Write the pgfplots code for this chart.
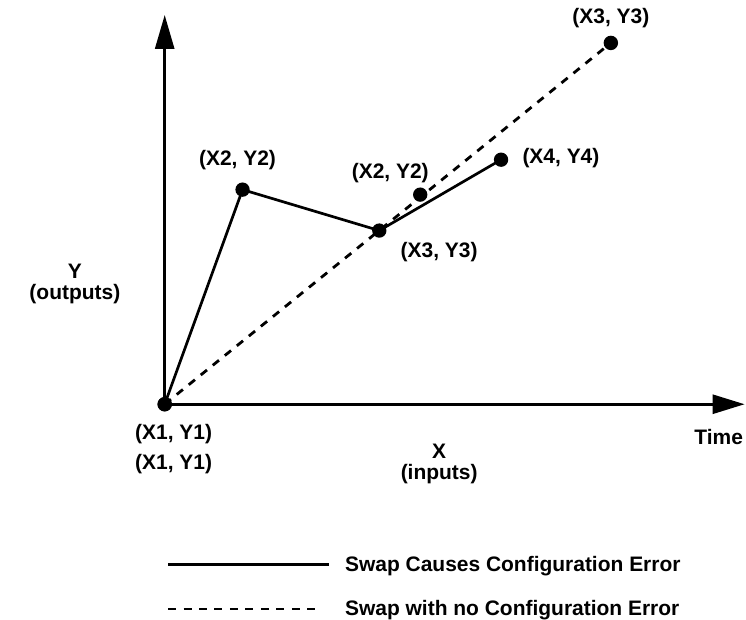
\documentclass[border=0pt]{standalone}
\usepackage{fontspec}
\setmainfont{Liberation Sans}
\usepackage{pgfplots}
\pgfplotsset{compat=1.18}
\usetikzlibrary{arrows.meta}
\begin{document}
\begin{tikzpicture}[lbl/.style={font=\fontsize{21}{24}\selectfont\bfseries, inner sep=0pt}]
\begin{axis}[
  scale only axis, width=746pt, height=620pt,
  xmin=-165, xmax=581, ymin=-215, ymax=405,
  hide axis, clip=false,
  legend style={at={(axis cs:2,-150)}, anchor=north west, draw=none, fill=none,
    font=\fontsize{21}{24}\selectfont\bfseries, row sep=24pt, column sep=13pt,
    inner sep=0pt, outer sep=0pt},
  legend cell align=left,
  legend image code/.code={\draw[black, line width=2.7pt] (0pt,0pt) -- (161pt,0pt);},
]
% axes
\addplot[black, line width=2.8pt, -{Triangle[length=32pt,width=19pt]}, forget plot] coordinates {(0,0) (581,0)};
\addplot[black, line width=2.8pt, -{Triangle[length=34pt,width=19pt]}, forget plot] coordinates {(0,0) (0,390)};
% solid path
\addplot[black, line width=2.7pt, mark=*, mark size=5.8pt] coordinates {(0,0) (78,215) (215,174) (337,245)};
\addlegendentry{Swap Causes Configuration Error}
% dashed path
\addplot[black, line width=2.8pt, dash pattern=on 8pt off 7.5pt, mark=*, mark size=5.8pt, mark options={solid},
  legend image code/.code={\draw[black, line width=2.8pt, dash pattern=on 8pt off 7.5pt] (0pt,0pt) -- (152pt,0pt);}] coordinates {(0,0) (447,362)};
\addlegendentry{Swap with no Configuration Error}
\addplot[black, line width=2.7pt, only marks, mark=*, mark size=5.8pt, forget plot] coordinates {(256,210)};
% labels
\node[lbl] at (axis cs:447,387) {(X3, Y3)};
\node[lbl] at (axis cs:73,245) {(X2, Y2)};
\node[lbl] at (axis cs:226,232) {(X2, Y2)};
\node[lbl] at (axis cs:397,247) {(X4, Y4)};
\node[lbl] at (axis cs:275,152) {(X3, Y3)};
\node[lbl] at (axis cs:9,-30) {(X1, Y1)};
\node[lbl] at (axis cs:9,-60) {(X1, Y1)};
\node[lbl] at (axis cs:-90,133) {Y};
\node[lbl] at (axis cs:-90,110) {(outputs)};
\node[lbl] at (axis cs:275,-47) {X};
\node[lbl] at (axis cs:275,-70) {(inputs)};
\node[lbl] at (axis cs:555,-33) {Time};
\path (axis cs:-165,-215) rectangle (axis cs:581,405);
\end{axis}
\end{tikzpicture}
\end{document}
